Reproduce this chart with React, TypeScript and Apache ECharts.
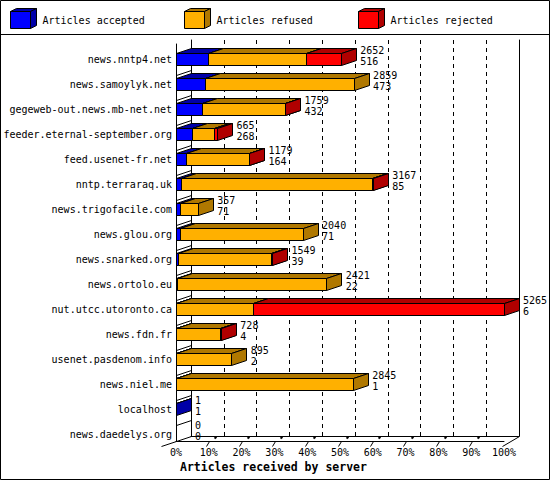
import { useEffect, useRef } from 'react'
import * as echarts from 'echarts'

const hosts = [
  'news.nntp4.net',
  'news.samoylyk.net',
  'gegeweb-out.news.mb-net.net',
  'feeder.eternal-september.org',
  'feed.usenet-fr.net',
  'nntp.terraraq.uk',
  'news.trigofacile.com',
  'news.glou.org',
  'news.snarked.org',
  'news.ortolo.eu',
  'nut.utcc.utoronto.ca',
  'news.fdn.fr',
  'usenet.pasdenom.info',
  'news.niel.me',
  'localhost',
  'news.daedelys.org',
]
const accepted = [516, 473, 432, 268, 164, 85, 71, 71, 39, 22, 6, 4, 2, 1, 1, 0]
const refused = [1575, 2386, 1319, 345, 1009, 3070, 286, 1969, 1501, 2399, 1230, 718, 893, 2844, 0, 0]
const rejected = [561, 0, 8, 52, 6, 12, 0, 0, 9, 0, 4029, 6, 0, 0, 0, 0]
const percentTicks = [0, 10, 20, 30, 40, 50, 60, 70, 80, 90, 100]

const legendNames = ['Articles accepted', 'Articles refused', 'Articles rejected']
const axisTitle = 'Articles received by server'

const FRONT = ['#0000ff', '#ffb000', '#ff0000']
const SIDE = ['#0000a8', '#b07800', '#b00000']
const MONO = '"DejaVu Sans Mono", monospace'
const DX = 15
const DY = 5

const snap = (v: number) => Math.round(v - 0.5) + 0.5

function box(xs: number, xe: number, top: number, bottom: number, i: number) {
  const line = { stroke: '#000', lineWidth: 1 }
  return [
    { type: 'rect', shape: { x: xs, y: top, width: xe - xs, height: bottom - top }, style: { fill: FRONT[i], ...line } },
    {
      type: 'polygon',
      shape: { points: [[xs, top], [xs + DX, top - DY], [xe + DX, top - DY], [xe, top]] },
      style: { fill: SIDE[i], ...line },
    },
    {
      type: 'polygon',
      shape: { points: [[xe, top], [xe + DX, top - DY], [xe + DX, bottom - DY], [xe, bottom]] },
      style: { fill: SIDE[i], ...line },
    },
  ]
}

export default function App() {
  const ref = useRef<HTMLDivElement | null>(null)

  useEffect(() => {
    if (!ref.current) return undefined
    const chart = echarts.init(ref.current, undefined, { renderer: 'svg' })

    const totals = hosts.map((_, i) => accepted[i] + refused[i] + rejected[i])
    const maxTotal = Math.max(...totals)
    const pct = (v: number) => (v / maxTotal) * 100
    const rows = hosts.map((_, i) => [pct(totals[i]), i, pct(accepted[i]), pct(refused[i]), pct(rejected[i]), totals[i], accepted[i]])

    const legendGraphics: any[] = []
    const legendX = [10, 184, 358]
    legendNames.forEach((name, i) => {
      const x = legendX[i] + 0.5
      const t = 11.5
      const b = 28.5
      const r = x + 20
      legendGraphics.push(
        { type: 'rect', shape: { x, y: t, width: 20, height: b - t }, style: { fill: FRONT[i], stroke: '#000', lineWidth: 1 } },
        { type: 'polygon', shape: { points: [[x, t], [x + 6, t - 3], [r + 6, t - 3], [r, t]] }, style: { fill: SIDE[i], stroke: '#000', lineWidth: 1 } },
        { type: 'polygon', shape: { points: [[r, t], [r + 6, t - 3], [r + 6, b - 3], [r, b]] }, style: { fill: SIDE[i], stroke: '#000', lineWidth: 1 } },
        { type: 'text', x: x + 32, y: 20, style: { text: name, fill: '#000', fontSize: 10, fontFamily: MONO, verticalAlign: 'middle' } },
      )
    })

    const hiddenAxis = { show: false }

    chart.setOption({
      animation: false,
      backgroundColor: '#fff',
      grid: [
        { left: 176, top: 44, width: 328, height: 397 },
        { left: 191, top: 40, width: 328, height: 396 },
        { left: 176, top: 46.8, width: 328, height: 400 },
      ],
      xAxis: [
        {
          type: 'value', gridIndex: 0, min: 0, max: 100, interval: 10,
          axisLine: { show: true, onZero: false, lineStyle: { color: '#000', width: 1 } },
          axisTick: { show: false },
          splitLine: { show: false },
          axisLabel: { formatter: '{value}%', color: '#000', fontSize: 10, fontFamily: MONO, margin: 6 },
        },
        {
          type: 'value', gridIndex: 1, min: 0, max: 100, interval: 10,
          axisLine: { show: true, onZero: false, lineStyle: { color: '#000', width: 1 } },
          axisTick: { show: false },
          axisLabel: { show: false },
          splitLine: { show: true, lineStyle: { color: '#000', width: 1, type: [4, 4] } },
        },
        { type: 'value', gridIndex: 2, min: 0, max: 100, ...hiddenAxis },
      ],
      yAxis: [
        {
          type: 'value', gridIndex: 0, min: 0, max: 1,
          axisLine: { show: true, onZero: false, lineStyle: { color: '#000', width: 1 } },
          axisTick: { show: false }, axisLabel: { show: false }, splitLine: { show: false },
        },
        {
          type: 'value', gridIndex: 1, min: 0, max: 1, position: 'left',
          axisLine: { show: true, onZero: false, lineStyle: { color: '#000', width: 1 } },
          axisTick: { show: false }, axisLabel: { show: false }, splitLine: { show: false },
        },
        {
          type: 'value', gridIndex: 1, min: 0, max: 1, position: 'right',
          axisLine: { show: true, onZero: false, lineStyle: { color: '#000', width: 1 } },
          axisTick: { show: false }, axisLabel: { show: false }, splitLine: { show: false },
        },
        {
          type: 'category', gridIndex: 2, inverse: true, data: hosts,
          axisLine: { show: false }, axisTick: { show: false }, splitLine: { show: false },
          axisLabel: { interval: 0, color: '#000', fontSize: 10, fontFamily: MONO, margin: 4 },
        },
      ],
      series: [
        {
          name: 'wall',
          type: 'custom',
          xAxisIndex: 2,
          yAxisIndex: 3,
          silent: true,
          z: 3,
          data: hosts.slice(0, hosts.length - 1).map((_, i) => [0, i]),
          encode: { x: 0, y: 1 },
          renderItem: (_params: any, api: any) => {
            const [x, cy] = api.coord([0, api.value(1)])
            const xs = snap(x)
            const yf = snap(cy + 16)
            return {
              type: 'line',
              shape: { x1: xs, y1: yf, x2: xs + DX, y2: yf - DY },
              style: { stroke: '#000', lineWidth: 1 },
            }
          },
        },
        {
          name: 'floor',
          type: 'custom',
          xAxisIndex: 0,
          yAxisIndex: 0,
          silent: true,
          z: 3,
          data: percentTicks.map((p) => [p, 0]),
          encode: { x: 0, y: 1 },
          renderItem: (_params: any, api: any) => {
            const p = api.value(0)
            const [x0, y0] = api.coord([p, 0])
            const x = snap(x0)
            const y = snap(y0)
            const st = { stroke: '#000', lineWidth: 1 }
            if (p === 0) {
              return { type: 'line', shape: { x1: x - 15, y1: y + 5, x2: x + DX, y2: y - DY }, style: st }
            }
            if (p === 100) {
              return { type: 'line', shape: { x1: x - 2, y1: y + 5, x2: x + DX, y2: y - DY }, style: st }
            }
            return {
              type: 'group',
              children: [
                { type: 'line', shape: { x1: x - 2, y1: y + 5, x2: x + 1, y2: y }, style: st },
                { type: 'line', shape: { x1: x + 6, y1: y - 3, x2: x + 8, y2: y - 4.5 }, style: { stroke: '#000', lineWidth: 2 } },
              ],
            }
          },
        },
        {
          name: 'articles',
          type: 'custom',
          xAxisIndex: 2,
          yAxisIndex: 3,
          silent: true,
          z: 5,
          data: rows,
          encode: { x: 0, y: 1 },
          renderItem: (_params: any, api: any) => {
            const row = api.value(1)
            const parts = [api.value(2), api.value(3), api.value(4)]
            const [, cy] = api.coord([0, row])
            const top = snap(cy - 6)
            const bottom = top + 12
            const children: any[] = []
            let start = 0
            parts.forEach((v: number, i: number) => {
              if (v <= 0) return
              const end = start + v
              const xs = snap(api.coord([start, row])[0])
              const xe = snap(api.coord([end, row])[0])
              children.push(...box(xs, xe, top, bottom, i))
              start = end
            })
            const xLabel = api.coord([api.value(0), row])[0] + DX + 4
            const textStyle = { fill: '#000', fontSize: 10, fontFamily: MONO, verticalAlign: 'middle', align: 'left' }
            children.push(
              { type: 'text', style: { text: String(api.value(5)), x: xLabel, y: cy - 9, ...textStyle } },
              { type: 'text', style: { text: String(api.value(6)), x: xLabel, y: cy + 2, ...textStyle } },
            )
            return { type: 'group', children }
          },
        },
      ],
      graphic: [
        { type: 'rect', shape: { x: 0.5, y: 0.5, width: 549, height: 479 }, style: { fill: 'none', stroke: '#000', lineWidth: 1 }, z: 10 },
        { type: 'line', shape: { x1: 0, y1: 34.5, x2: 550, y2: 34.5 }, style: { stroke: '#000', lineWidth: 1 } },
        ...legendGraphics,
        {
          type: 'text',
          x: 180,
          y: 467,
          style: { text: axisTitle, fill: '#000', fontSize: 11.5, fontWeight: 'bold', fontFamily: MONO, verticalAlign: 'middle' },
        },
      ],
    })

    return () => {
      chart.dispose()
    }
  }, [])

  return <div ref={ref} style={{ position: 'absolute', left: 0, top: 0, width: 550, height: 480 }} />
}
